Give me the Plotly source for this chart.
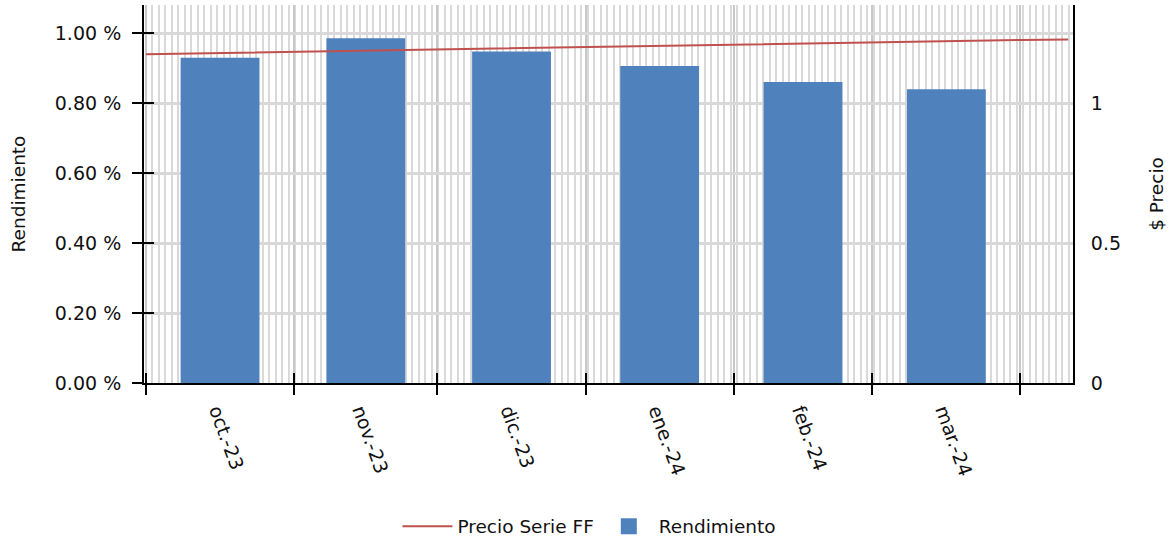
import plotly.graph_objects as go

# ---- data ----
months = ["2023-10-01", "2023-11-01", "2023-12-01", "2024-01-01", "2024-02-01", "2024-03-01"]
month_labels = ["oct.-23", "nov.-23", "dic.-23", "ene.-24", "feb.-24", "mar.-24"]
rendimiento = [0.929, 0.985, 0.947, 0.906, 0.860, 0.839]  # percent

price_dates = ["2023-10-01", "2023-11-01", "2023-12-01", "2024-01-01", "2024-02-01",
               "2024-03-01", "2024-04-01", "2024-04-11"]
price_values = [1.174, 1.183, 1.192, 1.201, 1.209, 1.216, 1.225, 1.227]

tick_months = ["2023-10-01", "2023-11-01", "2023-12-01", "2024-01-01", "2024-02-01",
               "2024-03-01", "2024-04-01"]
label_positions = ["2023-10-16", "2023-11-15", "2023-12-16", "2024-01-16", "2024-02-15", "2024-03-16"]

left_ticks = [0, 0.2, 0.4, 0.6, 0.8, 1.0]
left_ticktext = ["0.00 %", "0.20 %", "0.40 %", "0.60 %", "0.80 %", "1.00 %"]
right_ticks = [0, 0.5, 1]
right_ticktext = ["0", "0.5", "1"]

x_range = ["2023-09-30 14:00", "2024-04-12 00:00"]
DAY = 86400000

FONT = "DejaVu Sans"
FS = 19
TXT = "#111111"
BLUE = "#4F81BD"
RED = "#C0504D"

fig = go.Figure()

fig.add_trace(go.Bar(
    x=months, y=rendimiento, name="Rendimiento", showlegend=False,
    xperiod="M1", xperiodalignment="middle",
    width=16.5 * DAY, marker=dict(color=BLUE, line=dict(width=0)),
    xaxis="x", yaxis="y",
))
fig.add_trace(go.Scatter(
    x=price_dates, y=price_values, name="Precio Serie FF", mode="lines",
    line=dict(color=RED, width=2), xaxis="x", yaxis="y2", legendrank=1,
))
# legend entry for the bars with a larger square symbol
fig.add_trace(go.Scatter(
    x=[None], y=[None], name="Rendimiento", mode="markers",
    marker=dict(symbol="square", size=21, color=BLUE), xaxis="x", yaxis="y", legendrank=2,
))
# invisible helper traces so that helper axes are drawn
fig.add_trace(go.Scatter(x=[None], y=[None], xaxis="x2", yaxis="y", showlegend=False, hoverinfo="skip"))
fig.add_trace(go.Scatter(x=[None], y=[None], xaxis="x3", yaxis="y3", showlegend=False, hoverinfo="skip"))

fig.update_layout(
    width=1172, height=540,
    margin=dict(l=144, r=99, t=5, b=157, autoexpand=False),
    paper_bgcolor="white", plot_bgcolor="white",
    font=dict(family=FONT, size=FS, color=TXT),
    barmode="overlay",
    xaxis=dict(
        type="date", range=x_range, automargin=False,
        tickmode="array", tickvals=tick_months, showticklabels=False,
        ticks="outside", ticklen=10, tickwidth=2, tickcolor="black",
        showline=True, linecolor="black", linewidth=2,
        showgrid=True, gridcolor="#c8c8c8", gridwidth=2,
        minor=dict(dtick=1.36 * DAY, tick0="2023-10-01", showgrid=True,
                   gridcolor="#d9d9d9", gridwidth=2, ticks=""),
        zeroline=False,
    ),
    xaxis2=dict(
        type="date", range=x_range, overlaying="x", anchor="y", side="bottom", automargin=False,
        tickmode="array", tickvals=label_positions, ticktext=month_labels,
        tickangle=70, ticks="", ticklabelstandoff=12,
        showgrid=False, showline=False, zeroline=False,
        tickfont=dict(family=FONT, size=FS, color=TXT),
    ),
    xaxis3=dict(
        type="date", range=x_range, overlaying="x", anchor="y3", side="bottom", automargin=False,
        tickmode="array", tickvals=tick_months, showticklabels=False,
        ticks="inside", ticklen=10, tickwidth=2, tickcolor="black",
        showgrid=False, showline=False, zeroline=False,
    ),
    yaxis=dict(
        range=[0, 1.08], automargin=False,
        tickmode="array", tickvals=left_ticks, ticktext=left_ticktext,
        ticks="outside", ticklen=10, tickwidth=2, tickcolor="black",
        ticklabelstandoff=7,
        showline=True, linecolor="black", linewidth=2,
        showgrid=True, gridcolor="#d9d9d9", gridwidth=3, zeroline=False,
        title=dict(text="Rendimiento", standoff=24, font=dict(family=FONT, size=18.5, color=TXT)),
        tickfont=dict(family=FONT, size=FS, color=TXT),
    ),
    yaxis2=dict(
        range=[0, 1.35], overlaying="y", side="right", anchor="x", automargin=False,
        tickmode="array", tickvals=right_ticks, ticktext=right_ticktext,
        ticks="", ticklabelstandoff=12,
        showline=True, linecolor="black", linewidth=2,
        showgrid=False, zeroline=False,
        title=dict(text="$ Precio", standoff=30, font=dict(family=FONT, size=18.5, color=TXT)),
        tickfont=dict(family=FONT, size=FS, color=TXT),
    ),
    yaxis3=dict(
        range=[0, 1.08], overlaying="y", side="left", anchor="x3", automargin=False,
        tickmode="array", tickvals=left_ticks, showticklabels=False,
        ticks="inside", ticklen=10, tickwidth=2, tickcolor="black",
        showgrid=False, showline=False, zeroline=False,
    ),
    legend=dict(
        orientation="h", x=0.4795, xanchor="center", y=-0.33, yanchor="top",
        font=dict(family=FONT, size=18.5, color=TXT),
        itemwidth=50,
    ),
    showlegend=True,
)

fig.write_html("out.html", config={"displayModeBar": False},
               post_script="document.body.style.margin='0';")
